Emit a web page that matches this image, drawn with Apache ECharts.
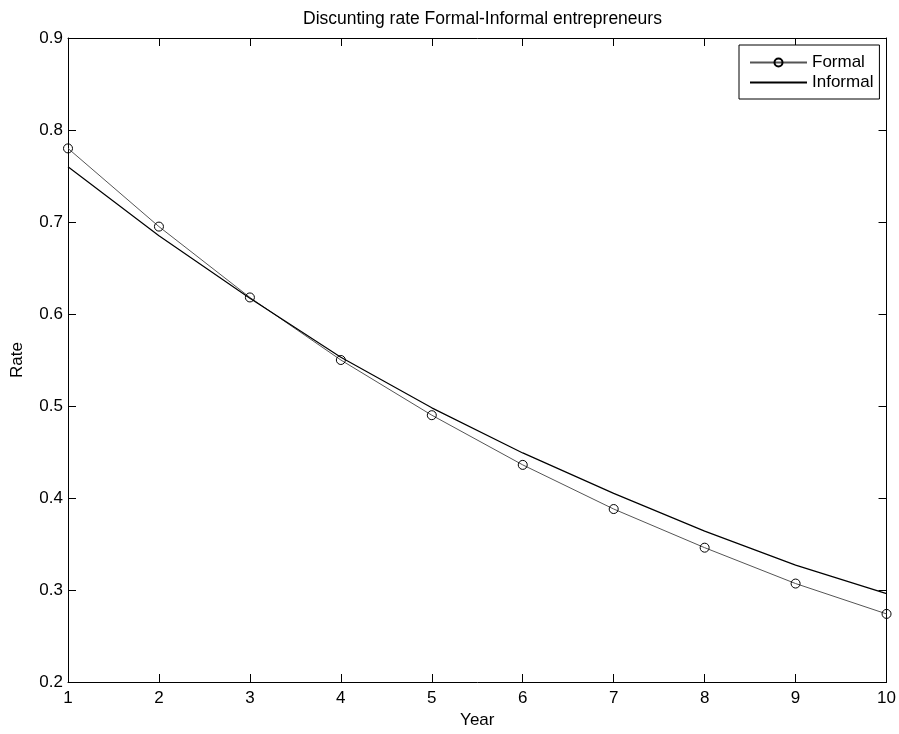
<!DOCTYPE html>
<html>
<head>
  <meta charset="utf-8">
  <title>Discunting rate Formal-Informal entrepreneurs</title>
  <style type="text/css">
    html, body { margin: 0; padding: 0; background: #fff; }
    #main { width: 899px; height: 734px; }
  </style>
</head>
<body>
<div id="main"></div>
<script type="text/javascript" src="https://cdn.jsdelivr.net/npm/echarts@6/dist/echarts.min.js"></script>
<script type="text/javascript">
  var years = [1, 2, 3, 4, 5, 6, 7, 8, 9, 10];
  var formal = [0.780, 0.695, 0.618, 0.550, 0.490, 0.436, 0.388, 0.346, 0.307, 0.274];
  var informal = [0.760, 0.685, 0.617, 0.553, 0.498, 0.449, 0.405, 0.364, 0.327, 0.296];

  var font = 'Liberation Sans, Arial, sans-serif';

  function pairs(vals) {
    return years.map(function (y, i) { return [y, vals[i]]; });
  }

  var myChart = echarts.init(document.getElementById('main'));

  var boxAxis = {
    axisLine: { show: true, onZero: false, lineStyle: { color: '#000', width: 1 } },
    axisTick: { show: true, inside: true, length: 8, lineStyle: { color: '#000' } },
    splitLine: { show: false }
  };

  option = {
    animation: false,
    backgroundColor: '#fff',
    title: {
      text: 'Discunting rate Formal-Informal entrepreneurs',
      left: 298,
      top: 5,
      textStyle: { fontFamily: font, fontSize: 17.5, fontWeight: 'normal', color: '#000' }
    },
    legend: {
      orient: 'vertical',
      left: 739,
      top: 45,
      padding: [9, 6, 8, 10],
      itemWidth: 57,
      itemHeight: 10,
      itemGap: 3,
      borderColor: '#000',
      borderWidth: 1,
      backgroundColor: '#fff',
      textStyle: { fontFamily: font, fontSize: 17, color: '#000' },
      data: ['Formal', 'Informal']
    },
    grid: { left: 68, right: 11, top: 38, bottom: 50, containLabel: false },
    xAxis: [
      Object.assign({}, boxAxis, {
        type: 'value', min: 1, max: 10, interval: 1,
        position: 'bottom',
        name: 'Year', nameLocation: 'middle', nameGap: 30,
        nameTextStyle: { fontFamily: font, fontSize: 17, color: '#000' },
        axisLabel: { margin: 8, fontFamily: font, fontSize: 17, color: '#000' }
      }),
      Object.assign({}, boxAxis, {
        type: 'value', min: 1, max: 10, interval: 1,
        position: 'top',
        axisLabel: { show: false }
      })
    ],
    yAxis: [
      Object.assign({}, boxAxis, {
        type: 'value', min: 0.2, max: 0.9, interval: 0.1,
        position: 'left',
        name: 'Rate', nameLocation: 'middle', nameGap: 42,
        nameTextStyle: { fontFamily: font, fontSize: 17, color: '#000' },
        axisLabel: {
          margin: 5, fontFamily: font, fontSize: 17, color: '#000',
          formatter: function (v) { return v.toFixed(1); }
        }
      }),
      Object.assign({}, boxAxis, {
        type: 'value', min: 0.2, max: 0.9, interval: 0.1,
        position: 'right',
        axisLabel: { show: false }
      })
    ],
    series: [
      {
        name: 'Formal',
        type: 'line',
        data: pairs(formal),
        symbol: 'circle',
        symbolSize: 9,
        lineStyle: { color: '#555', width: 1 },
        itemStyle: { color: 'rgba(255,255,255,0)', borderColor: '#000', borderWidth: 1 }
      },
      {
        name: 'Informal',
        type: 'line',
        data: pairs(informal),
        symbol: 'none',
        lineStyle: { color: '#000', width: 1.2 },
        // transparent so the legend shows only the line
        itemStyle: { color: 'rgba(0,0,0,0)', borderWidth: 0 }
      }
    ]
  };

  myChart.setOption(option);
</script>
</body>
</html>
